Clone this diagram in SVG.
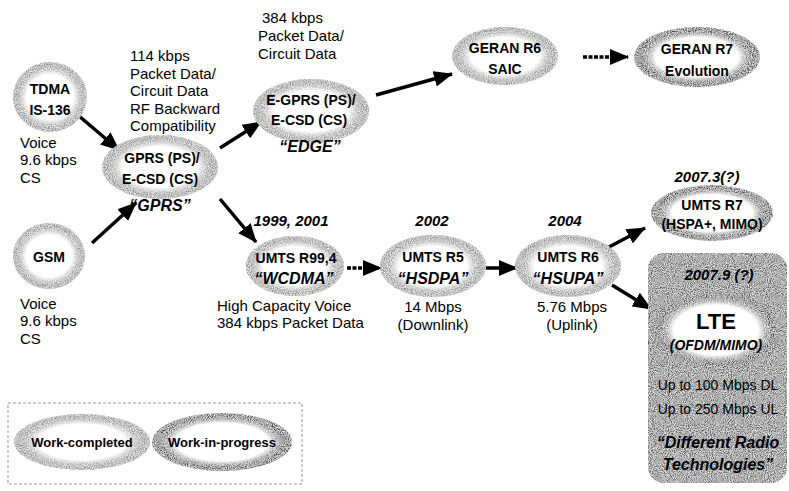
<svg xmlns="http://www.w3.org/2000/svg" width="789" height="491" viewBox="0 0 789 491">
<defs>
<style>
text{font-family:"Liberation Sans",Arial,sans-serif;fill:#000}
.lbl{font-size:14px;font-weight:bold;text-anchor:middle}
.it{font-style:italic;font-weight:bold}
.ann{font-size:15px}
.c{text-anchor:middle}
.yr{font-size:15px;font-weight:bold;font-style:italic;text-anchor:middle}
.arr{stroke:#000;stroke-width:3.5;fill:none;marker-end:url(#ah)}
.dash{stroke-dasharray:4 1.5}
.done{fill:url(#gDone);filter:url(#grain)}
.wip{fill:url(#gWip);filter:url(#grain)}
</style>
<radialGradient id="gDone" cx="0.5" cy="0.5" r="0.5">
<stop offset="0" stop-color="#fff"/>
<stop offset="0.64" stop-color="#fff"/>
<stop offset="0.8" stop-color="#a8a8a8"/>
<stop offset="0.92" stop-color="#8a8a8a"/>
<stop offset="1" stop-color="#a0a0a0"/>
</radialGradient>
<radialGradient id="gWip" cx="0.5" cy="0.5" r="0.5">
<stop offset="0" stop-color="#fff"/>
<stop offset="0.66" stop-color="#fff"/>
<stop offset="0.78" stop-color="#8a8a8a"/>
<stop offset="0.9" stop-color="#3c3c3c"/>
<stop offset="1" stop-color="#606060"/>
</radialGradient>
<filter id="grain" x="-5%" y="-5%" width="110%" height="110%">
<feTurbulence type="fractalNoise" baseFrequency="0.95" numOctaves="2" seed="4" result="n"/>
<feColorMatrix in="n" type="matrix" values="0 0 0 1.6 -0.45  0 0 0 1.6 -0.45  0 0 0 1.6 -0.45  0 0 0 0 1" result="g"/>
<feBlend in="SourceGraphic" in2="g" mode="screen" result="b"/>
<feComposite in="b" in2="SourceGraphic" operator="in"/>
</filter>
<marker id="ah" markerUnits="userSpaceOnUse" markerWidth="19" markerHeight="16" refX="18" refY="8" orient="auto">
<path d="M0,0 L19,8 L0,16 Z" fill="#000"/>
</marker>
</defs>
<rect width="789" height="491" fill="#fff"/>

<g id="connectors">
<line class="arr" x1="79" y1="116" x2="119" y2="150"/>
<line class="arr" x1="92" y1="243" x2="136" y2="203"/>
<line class="arr" x1="220" y1="148" x2="261" y2="122"/>
<line class="arr" x1="376" y1="95" x2="452" y2="74"/>
<line class="arr dash" x1="583" y1="57" x2="628" y2="57"/>
<line class="arr" x1="220" y1="199" x2="256" y2="242"/>
<line class="arr dash" x1="347" y1="268" x2="381" y2="268"/>
<line class="arr" x1="486" y1="268" x2="517" y2="268"/>
<line class="arr" x1="609" y1="247" x2="645" y2="228"/>
<line class="arr" x1="612" y1="285" x2="651" y2="309"/>
</g>

<g id="tdma">
<ellipse class="done" cx="50" cy="97" rx="37" ry="35"/>
<text class="lbl" x="50" y="94">TDMA</text>
<text class="lbl" x="50" y="115">IS-136</text>
<text class="ann" x="20" y="148">Voice</text>
<text class="ann" x="20" y="165">9.6 kbps</text>
<text class="ann" x="20" y="183">CS</text>
</g>

<g id="gsm">
<ellipse class="done" cx="49" cy="256" rx="36" ry="33"/>
<text class="lbl" x="49" y="262">GSM</text>
<text class="ann" x="20" y="309">Voice</text>
<text class="ann" x="20" y="326">9.6 kbps</text>
<text class="ann" x="20" y="344">CS</text>
</g>

<g id="gprs">
<text class="ann" x="130" y="61">114 kbps</text>
<text class="ann" x="130" y="79">Packet Data/</text>
<text class="ann" x="130" y="96">Circuit Data</text>
<text class="ann" x="130" y="114">RF Backward</text>
<text class="ann" x="130" y="131">Compatibility</text>
<ellipse class="done" cx="160" cy="167" rx="58" ry="32"/>
<text class="lbl" x="162" y="163">GPRS (PS)/</text>
<text class="lbl" x="160" y="184">E-CSD (CS)</text>
<text class="lbl it" x="160" y="211" style="font-size:16px">“GPRS”</text>
</g>

<g id="egprs">
<text class="ann" x="262" y="23">384 kbps</text>
<text class="ann" x="258" y="41">Packet Data/</text>
<text class="ann" x="258" y="59">Circuit Data</text>
<ellipse class="done" cx="311" cy="111" rx="58" ry="32"/>
<text class="lbl" x="311" y="105">E-GPRS (PS)/</text>
<text class="lbl" x="309" y="125">E-CSD (CS)</text>
<text class="lbl it" x="310" y="152" style="font-size:16px">“EDGE”</text>
</g>

<g id="geran6">
<ellipse class="done" cx="505" cy="56" rx="53" ry="29"/>
<text class="lbl" x="505" y="53">GERAN R6</text>
<text class="lbl" x="505" y="74">SAIC</text>
</g>

<g id="geran7">
<ellipse class="wip" cx="697" cy="57" rx="63" ry="30"/>
<text class="lbl" x="697" y="54">GERAN R7</text>
<text class="lbl" x="697" y="76">Evolution</text>
</g>

<g id="r99">
<text class="yr" x="291" y="226">1999, 2001</text>
<ellipse class="done" cx="295" cy="266" rx="49" ry="30"/>
<text class="lbl" x="296" y="263">UMTS R99,4</text>
<text class="lbl it" x="294" y="284" style="font-size:16px">“WCDMA”</text>
<text class="ann" x="217" y="311">High Capacity Voice</text>
<text class="ann" x="217" y="328">384 kbps Packet Data</text>
</g>

<g id="r5">
<text class="yr" x="432" y="226">2002</text>
<ellipse class="done" cx="433" cy="266" rx="53" ry="31"/>
<text class="lbl" x="433" y="262">UMTS R5</text>
<text class="lbl it" x="433" y="284" style="font-size:16px">“HSDPA”</text>
<text class="ann c" x="433" y="312">14 Mbps</text>
<text class="ann c" x="433" y="330">(Downlink)</text>
</g>

<g id="r6">
<text class="yr" x="565" y="226">2004</text>
<ellipse class="done" cx="568" cy="266" rx="53" ry="31"/>
<text class="lbl" x="568" y="262">UMTS R6</text>
<text class="lbl it" x="568" y="284" style="font-size:16px">“HSUPA”</text>
<text class="ann c" x="572" y="312">5.76 Mbps</text>
<text class="ann c" x="572" y="330">(Uplink)</text>
</g>

<g id="r7">
<text class="yr" x="707" y="182">2007.3(?)</text>
<ellipse class="wip" cx="712" cy="213" rx="61" ry="28"/>
<text class="lbl" x="712" y="210">UMTS R7</text>
<text class="lbl" x="712" y="229">(HSPA+, MIMO)</text>
</g>

<g id="lte">
<rect x="648" y="253" width="139" height="230" rx="16" fill="#606060" filter="url(#grain)"/>
<text class="yr" x="719" y="280">2007.9 (?)</text>
<ellipse class="wip" cx="716" cy="330" rx="64" ry="38"/>
<text class="lbl" x="716" y="329" style="font-size:22px">LTE</text>
<text class="lbl it" x="716" y="350">(OFDM/MIMO)</text>
<text class="ann c" x="718" y="390" style="font-size:14px">Up to 100 Mbps DL</text>
<text class="ann c" x="718" y="414" style="font-size:14px">Up to 250 Mbps UL</text>
<text class="lbl it" x="718" y="448" style="font-size:16px">“Different Radio</text>
<text class="lbl it" x="718" y="470" style="font-size:16px">Technologies”</text>
</g>

<g id="legend">
<rect x="8" y="403" width="294" height="81" fill="none" stroke="#999" stroke-width="1" stroke-dasharray="3 2"/>
<g id="legend-done">
<ellipse class="done" cx="82" cy="442" rx="68" ry="28"/>
<text class="lbl" x="82" y="447" style="font-size:13px">Work-completed</text>
</g>
<g id="legend-wip">
<ellipse class="wip" cx="222" cy="442" rx="70" ry="29"/>
<text class="lbl" x="222" y="447" style="font-size:13px">Work-in-progress</text>
</g>
</g>
</svg>
